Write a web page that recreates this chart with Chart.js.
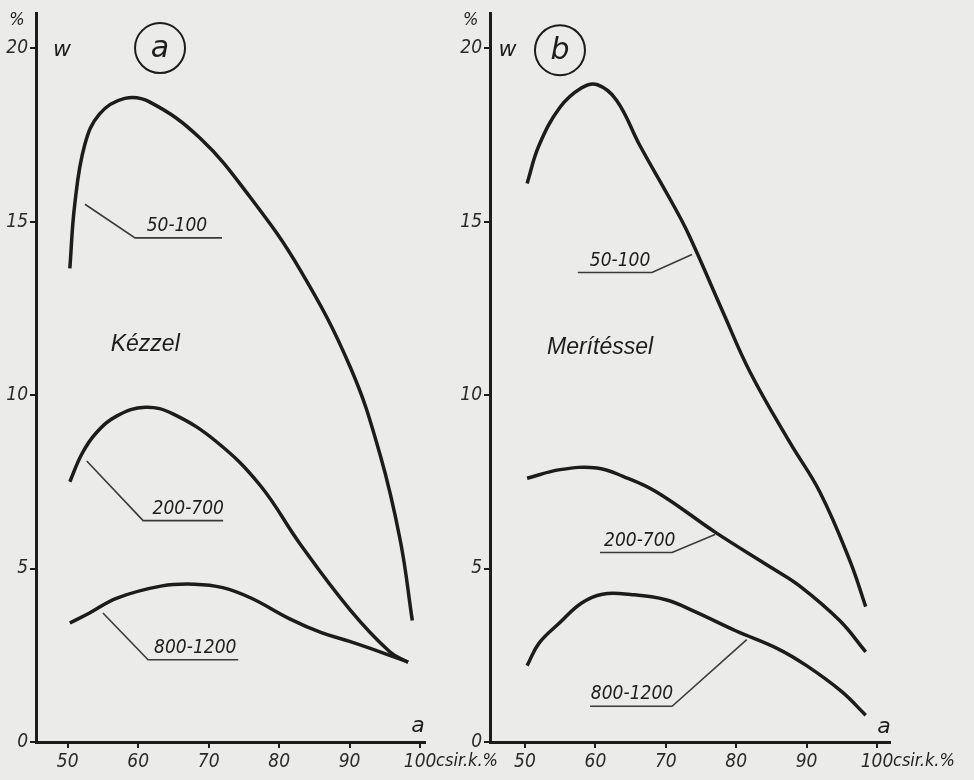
<!DOCTYPE html>
<html>
<head>
<meta charset="utf-8">
<script src="https://cdn.jsdelivr.net/npm/chart.js@4.4.0/dist/chart.umd.min.js"></script>
<style>
  body { margin: 0; background: #ebebe9; }
  #wrap { position: relative; width: 974px; height: 780px; }
  #wrap canvas { position: absolute; left: 0; top: 0; }
</style>
</head>
<body>
<div id="wrap">
  <canvas id="chart_a" width="974" height="780"></canvas>
  <canvas id="chart_b" width="974" height="780"></canvas>
</div>
<script>
// tick labels
const x_ticks = [50, 60, 70, 80, 90, 100];
const w_ticks = [0, 5, 10, 15, 20];
const series_names = ["50-100", "200-700", "800-1200"];

// panel a - Kézzel
const a_50_100_x = [50.3, 51.0, 52.4, 54.5, 58.1, 61.6, 68.8, 75.9, 83.0, 90.1, 94.3, 97.2, 98.9];
const a_50_100_w = [13.65, 15.5, 17.2, 18.1, 18.55, 18.45, 17.4, 15.7, 13.6, 10.8, 8.3, 5.8, 3.5];
const a_200_700_x = [50.3, 52.0, 54.0, 57.0, 61.0, 65.0, 71.2, 77.3, 83.0, 90.1, 95.7, 98.3];
const a_200_700_w = [7.5, 8.3, 8.9, 9.4, 9.65, 9.45, 8.64, 7.4, 5.7, 3.8, 2.6, 2.3];
const a_800_1200_x = [50.3, 53.1, 57.0, 63.4, 68.0, 72.0, 76.0, 81.5, 86.0, 90.0, 95.0, 98.3];
const a_800_1200_w = [3.43, 3.72, 4.15, 4.5, 4.55, 4.45, 4.15, 3.55, 3.15, 2.9, 2.55, 2.3];

// panel b - Merítéssel
const b_50_100_x = [50.3, 52.0, 55.0, 58.0, 60.2, 63.0, 66.3, 70.6, 73.2, 78.1, 82.0, 87.6, 91.9, 96.2, 98.4];
const b_50_100_w = [16.1, 17.2, 18.3, 18.85, 18.95, 18.5, 17.2, 15.65, 14.65, 12.4, 10.65, 8.64, 7.2, 5.2, 3.9];
const b_200_700_x = [50.3, 55.0, 60.2, 64.0, 68.75, 77.0, 85.2, 89.0, 94.7, 98.4];
const b_200_700_w = [7.6, 7.85, 7.9, 7.65, 7.2, 6.05, 5.0, 4.5, 3.5, 2.6];
const b_800_1200_x = [50.3, 52.0, 55.0, 58.0, 61.0, 65.0, 70.0, 73.9, 80.0, 85.8, 90.0, 95.0, 98.4];
const b_800_1200_w = [2.2, 2.85, 3.45, 4.0, 4.26, 4.25, 4.1, 3.78, 3.2, 2.7, 2.2, 1.45, 0.77];

const ink = "#1c1c1c";
const hand = "italic 18px 'Liberation Sans Narrow', 'DejaVu Sans Condensed', sans-serif";

function pts(xs, ws) {
  return xs.map((x, i) => ({ x: x, y: ws[i] }));
}

function curve(xs, ws, name) {
  return {
    label: name,
    data: pts(xs, ws),
    borderColor: ink,
    borderWidth: 3.5,
    pointRadius: 0,
    fill: false,
    tension: 0.4,
  };
}

// text, leader lines and circled letter (positions in data units)
const decor = {
  id: "decor",
  afterDatasetsDraw(chart, args, o) {
    const c = chart.ctx, sx = chart.scales.x, sy = chart.scales.y;
    const X = (v) => sx.getPixelForValue(v), Y = (v) => sy.getPixelForValue(v);
    c.save();
    c.fillStyle = ink;
    c.strokeStyle = ink;
    c.textAlign = "center";
    c.textBaseline = "middle";

    // circled panel letter
    c.lineWidth = 2;
    c.beginPath();
    c.arc(X(o.letter[0]), Y(o.letter[1]), 25, 0, Math.PI * 2);
    c.stroke();
    c.font = "italic 30px 'Liberation Sans Narrow', 'DejaVu Sans', sans-serif";
    c.fillText(o.letter[2], X(o.letter[0]), Y(o.letter[1]) + 1);

    c.font = "italic 22px 'Liberation Sans Narrow', 'DejaVu Sans', sans-serif";
    c.fillText("w", X(o.wpos[0]), Y(o.wpos[1]));
    c.font = hand;
    c.fillText("%", X(o.pct[0]), Y(o.pct[1]));
    c.font = "italic 22px 'Liberation Sans Narrow', 'DejaVu Sans', sans-serif";
    c.fillText("a", X(o.alabel[0]), Y(o.alabel[1]));

    // unit after the last x tick
    c.font = hand;
    c.textAlign = "left";
    c.fillText("csir.k.%", X(100) + 16, sy.bottom + 19);

    // method name
    c.textAlign = "center";
    c.font = "italic 23px 'Liberation Sans', 'DejaVu Sans', sans-serif";
    c.fillText(o.method[2], X(o.method[0]), Y(o.method[1]));

    // series labels with leader lines
    c.lineWidth = 1.6;
    c.strokeStyle = "#3a3a3a";
    c.font = "italic 19px 'Liberation Sans Narrow', 'DejaVu Sans Condensed', sans-serif";
    o.notes.forEach((n, i) => {
      c.beginPath();
      c.moveTo(X(n.tip[0]), Y(n.tip[1]));
      c.lineTo(X(n.elbow[0]), Y(n.elbow[1]));
      c.lineTo(X(n.end), Y(n.elbow[1]));
      c.stroke();
      c.textBaseline = "alphabetic";
      c.fillText(series_names[i], X(n.textX), Y(n.elbow[1]) - 7);
    });
    c.restore();
  },
};

function panel(id, datasets, xmin, xmax, padLeft, padRight, deco) {
  return new Chart(document.getElementById(id), {
    type: "line",
    data: { datasets: datasets },
    plugins: [decor],
    options: {
      responsive: false,
      animation: false,
      devicePixelRatio: 1,
      layout: { padding: { left: padLeft, right: padRight, top: 8, bottom: 0 } },
      plugins: { legend: { display: false }, tooltip: { enabled: false }, decor: deco },
      scales: {
        x: {
          type: "linear",
          min: xmin,
          max: xmax,
          afterBuildTicks: (s) => { s.ticks = x_ticks.map((v) => ({ value: v })); },
          afterFit: (s) => { s.height = 38; },
          grid: { drawOnChartArea: false, drawTicks: true, tickLength: 6, tickColor: ink, lineWidth: 2 },
          border: { display: true, color: ink, width: 3 },
          ticks: { color: "#2a2a2a", font: { family: "'Liberation Sans Narrow', 'DejaVu Sans Condensed', sans-serif", size: 19, style: "italic" }, padding: 3, maxRotation: 0 },
        },
        y: {
          type: "linear",
          min: 0,
          max: 21,
          afterBuildTicks: (s) => { s.ticks = w_ticks.map((v) => ({ value: v })); },
          afterFit: (s) => { s.width = 36; },
          grid: { drawOnChartArea: false, drawTicks: true, tickLength: 6, tickColor: ink, lineWidth: 2 },
          border: { display: true, color: ink, width: 3 },
          ticks: { color: "#2a2a2a", font: { family: "'Liberation Sans Narrow', 'DejaVu Sans Condensed', sans-serif", size: 19, style: "italic" }, padding: 2 },
        },
      },
    },
  });
}

panel("chart_a", [
  curve(a_50_100_x, a_50_100_w, series_names[0]),
  curve(a_200_700_x, a_200_700_w, series_names[1]),
  curve(a_800_1200_x, a_800_1200_w, series_names[2]),
], 45.5, 100.7, 0, 549, {
  letter: [63.1, 20.0, "a"],
  wpos: [49.2, 19.94],
  pct: [42.8, 20.8],
  alabel: [99.7, 0.46],
  method: [61.0, 11.44, "Kézzel"],
  notes: [
    { tip: [52.45, 15.5], elbow: [59.55, 14.53], end: 71.9, textX: 65.5 },
    { tip: [52.7, 8.1], elbow: [60.7, 6.38], end: 72.05, textX: 67.1 },
    { tip: [55.0, 3.72], elbow: [61.4, 2.37], end: 74.2, textX: 68.1 },
  ],
});

panel("chart_b", [
  curve(b_50_100_x, b_50_100_w, series_names[0]),
  curve(b_200_700_x, b_200_700_w, series_names[1]),
  curve(b_800_1200_x, b_800_1200_w, series_names[2]),
], 45.03, 101.85, 454, 84, {
  letter: [54.97, 19.94, "b"],
  wpos: [47.5, 19.94],
  pct: [42.3, 20.8],
  alabel: [101.0, 0.43],
  method: [60.66, 11.36, "Merítéssel"],
  notes: [
    { tip: [73.72, 14.05], elbow: [68.04, 13.53], end: 57.5, textX: 63.5 },
    { tip: [77.0, 5.98], elbow: [70.9, 5.46], end: 60.65, textX: 66.3 },
    { tip: [81.5, 2.95], elbow: [70.9, 1.03], end: 59.25, textX: 65.2 },
  ],
});
</script>
</body>
</html>
